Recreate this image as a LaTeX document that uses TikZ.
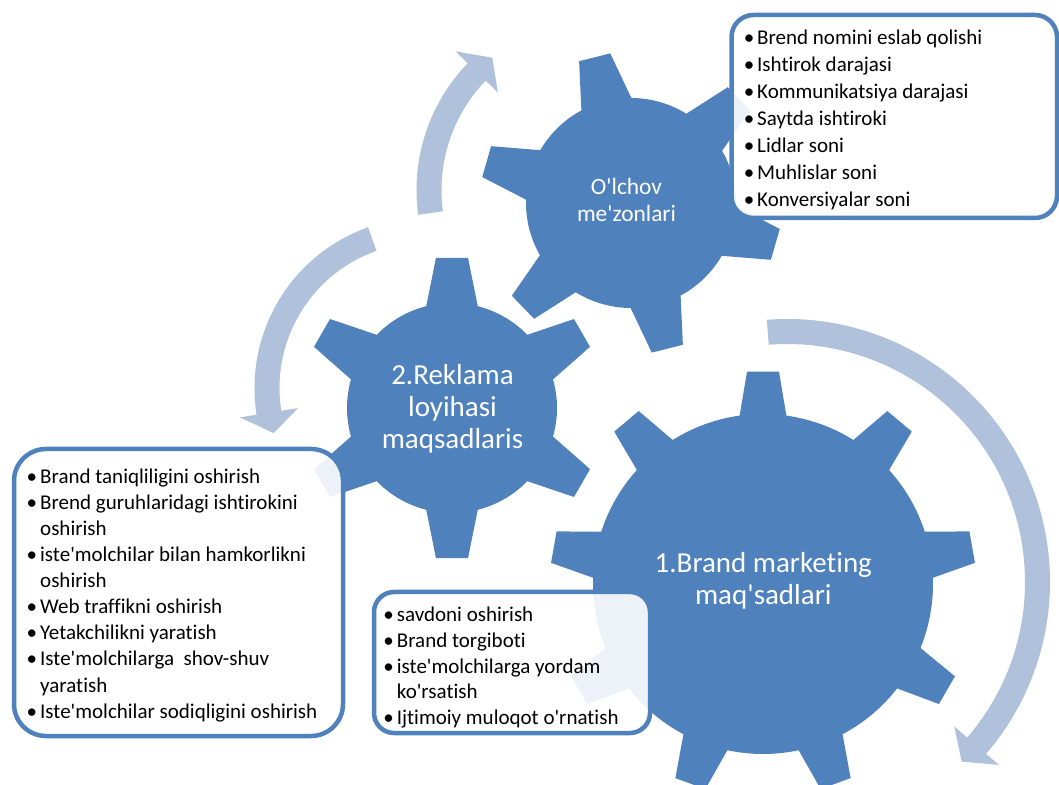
\documentclass[tikz,border=0pt]{standalone}
\usepackage{fontspec}
\setmainfont{Carlito}[Ligatures={TeXOff,CommonOff}]

\definecolor{gearblue}{RGB}{79,129,189}
\definecolor{arrowblue}{RGB}{176,193,220}

% bullet hanging to the left of a list line
\newcommand\blt{\llap{•\hspace{3pt}}}

% gear: #1 centre, #2 tip radius, #3 root radius, #4 tip half-angle,
% #5 root half-angle, #6 number of teeth, #7 angle of the first tooth
\newcommand\gearshape[7]{%
  \pgfmathsetmacro\gstep{360/#6}%
  \pgfmathsetmacro\gstart{#7-#5}%
  \fill[gearfill, shift={#1}] (\gstart:#3)
    \foreach \k [evaluate=\k as \tA using #7+(\k-1)*\gstep-#4,
                 evaluate=\k as \tB using #7+(\k-1)*\gstep+#4,
                 evaluate=\k as \bB using #7+(\k-1)*\gstep+#5,
                 evaluate=\k as \bN using #7+\k*\gstep-#5] in {1,...,#6}
    { -- (\tA:#2) -- (\tB:#2) -- (\bB:#3) arc[start angle=\bB, end angle=\bN, radius=#3] }
    -- cycle;
}

% circular arrow: #1 centre, #2 middle radius, #3 tail angle,
% #4 angle where the head starts, #5 angle of the tip
\newcommand\ringarrow[5]{%
  \pgfmathsetmacro\rOut{#2+12.5}%
  \pgfmathsetmacro\rIn{#2-12.5}%
  \pgfmathsetmacro\wOut{#2+29.5}%
  \pgfmathsetmacro\wIn{#2-29.5}%
  \fill[arrowfill, shift={#1}] (#3:\rOut) arc[start angle=#3, end angle=#4, radius=\rOut]
    -- (#4:\wOut) -- (#5:#2) -- (#4:\wIn) -- (#4:\rIn)
    arc[start angle=#4, end angle=#3, radius=\rIn] -- cycle;
}

\tikzset{
  gearfill/.style={fill=gearblue},
  arrowfill/.style={fill=arrowblue},
  listbox/.style={draw=gearblue, line width=4.5pt, fill=white, fill opacity=0.9},
  geartext/.style={text=white, inner sep=0pt, anchor=base, font=\fontsize{29}{31.7}\selectfont},
  listtext/.style={text=black, inner sep=0pt, anchor=base west},
}

\begin{document}
\begin{tikzpicture}[x=1pt, y=1pt]
  \useasboundingbox (0,0) rectangle (1059,784);

  % turning arrows
  \ringarrow{(787,202)}{250.5}{94.4}{-40.8}{-45.8}
  \ringarrow{(599,594)}{170}{187.8}{136}{128.9}
  \ringarrow{(425,396)}{158}{109.5}{189}{196.6}

  % gears
  \gearshape{(763,200)}{213}{170}{4.3}{7.9}{9}{90}
  \gearshape{(452,376)}{151}{105}{6.1}{14.2}{6}{90}
  \gearshape{(631,581)}{151}{105}{6.1}{14.2}{6}{164}

  % gear labels
  \node[geartext] (g1) at (763.3,211.5)
    {\begin{tabular}[t]{@{}c@{}}1.Brand marketing\\maq'sadlari\end{tabular}};
  \node[geartext] (g2) at (452.5,399)
    {\begin{tabular}[t]{@{}c@{}}2.Reklama\\loyihasi\\maqsadlaris\end{tabular}};
  \node[geartext, font=\fontsize{23.4}{26.7}\selectfont] (g3) at (626.5,589)
    {\begin{tabular}[t]{@{}c@{}}O'lchov\\me'zonlari\end{tabular}};

  % list boxes
  \draw[listbox, rounded corners=22pt] (731.5,769) rectangle (1057,566);
  \draw[listbox, rounded corners=32pt] (14,335) rectangle (343,48);
  \draw[listbox, rounded corners=20pt] (374,192) rectangle (650,51);

  \node[listtext, font=\fontsize{21}{27}\selectfont] (la) at (757,739)
    {\begin{tabular}[t]{@{}l@{}}
      \blt Brend nomini eslab qolishi\\
      \blt Ishtirok darajasi\\
      \blt Kommunikatsiya darajasi\\
      \blt Saytda ishtiroki\\
      \blt Lidlar soni\\
      \blt Muhlislar soni\\
      \blt Konversiyalar soni
    \end{tabular}};

  \node[listtext, font=\fontsize{21}{26.1}\selectfont] (lb) at (40,300.7)
    {\begin{tabular}[t]{@{}l@{}}
      \blt Brand taniqliligini oshirish\\
      \blt Brend guruhlaridagi ishtirokini\\
      oshirish\\
      \blt iste'molchilar bilan hamkorlikni\\
      oshirish\\
      \blt Web traffikni oshirish\\
      \blt Yetakchilikni yaratish\\
      \blt Iste'molchilarga\ \ shov-shuv\\
      yaratish\\
      \blt Iste'molchilar sodiqligini oshirish
    \end{tabular}};

  \node[listtext, font=\fontsize{21}{25.75}\selectfont] (lc) at (396.7,162.3)
    {\begin{tabular}[t]{@{}l@{}}
      \blt savdoni oshirish\\
      \blt Brand torgiboti\\
      \blt iste'molchilarga yordam\\
      ko'rsatish\\
      \blt Ijtimoiy muloqot o'rnatish
    \end{tabular}};
\end{tikzpicture}
\end{document}
